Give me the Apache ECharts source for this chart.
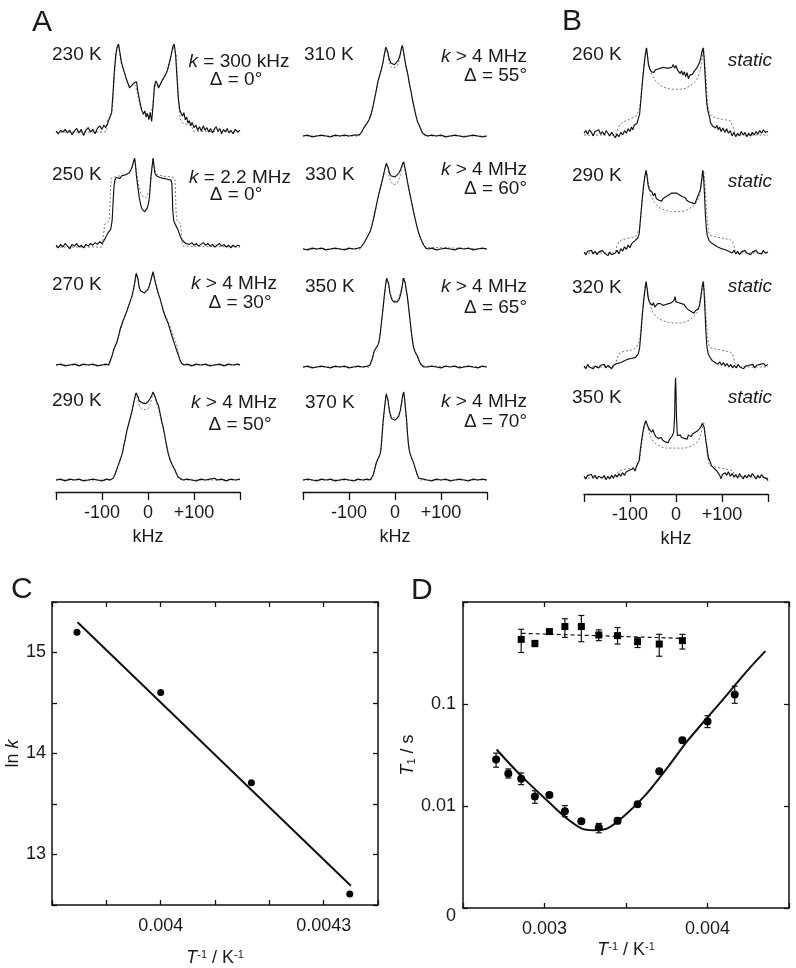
<!DOCTYPE html>
<html><head><meta charset="utf-8">
<script src="https://cdn.jsdelivr.net/npm/echarts@6.0.0/dist/echarts.min.js"></script>
<style>html,body{margin:0;padding:0;background:#fff}#c{width:796px;height:968px}</style>
</head><body><div id="c"></div><script>
// ---------- Spectra (x: kHz, y: normalized intensity) ----------
const A230_exp=[[-200,1],[-195,-2],[-190,2],[-185,0],[-180,3],[-175,-1],[-170,2],[-165,-3],[-160,1],[-155,4],[-150,-1],[-145,3],[-140,-4],[-135,2],[-130,5],[-125,0],[-120,3],[-115,-2],[-110,4],[-105,7],[-100,3],[-96,8],[-92,5],[-88,9],[-85,14],[-82,12],[-79,22],[-76,45],[-73,70],[-70,88],[-67,97],[-64,100],[-61,90],[-58,80],[-55,74],[-52,72],[-48,62],[-44,56],[-40,50],[-36,52],[-32,55],[-28,53],[-25,57],[-22,46],[-19,38],[-16,30],[-13,24],[-10,20],[-7,24],[-4,17],[-1,21],[2,14],[5,22],[8,12],[11,30],[14,52],[17,58],[20,55],[23,50],[26,52],[30,58],[34,60],[38,65],[42,70],[46,78],[50,87],[54,97],[57,100],[60,88],[63,62],[66,38],[69,25],[72,27],[75,18],[78,22],[81,14],[84,17],[87,10],[90,13],[93,7],[96,11],[100,5],[104,8],[108,2],[112,6],[116,1],[120,7],[124,2],[128,5],[132,0],[136,4],[140,-1],[144,3],[148,6],[152,1],[156,4],[160,-2],[164,3],[168,0],[172,4],[176,-1],[180,2],[185,-2],[190,3],[195,0],[200,2]];
const A230_sim=[[-200,0],[-95,0],[-90,1],[-88,14],[-84,17],[-80,20],[-77,30],[-74,55],[-71,78],[-68,92],[-65,99],[-62,92],[-59,80],[-55,72],[-51,66],[-46,58],[-41,53],[-36,52],[-31,55],[-27,52],[-23,44],[-19,34],[-15,26],[-11,22],[-6,21],[0,21],[6,22],[10,28],[13,45],[17,54],[22,53],[27,55],[32,58],[37,63],[42,69],[47,78],[51,88],[55,97],[58,99],[61,88],[64,60],[67,28],[70,15],[75,10],[82,9],[90,8],[95,7],[98,1],[102,0],[200,0]];
const A250_exp=[[-200,2],[-195,-1],[-190,3],[-185,0],[-180,4],[-175,1],[-170,-2],[-165,3],[-160,1],[-155,4],[-150,0],[-145,2],[-140,-1],[-135,3],[-130,1],[-125,4],[-120,2],[-115,5],[-110,3],[-105,6],[-100,4],[-96,7],[-93,10],[-90,13],[-87,16],[-84,17],[-81,20],[-78,30],[-76,50],[-74,68],[-72,76],[-69,79],[-65,80],[-61,78],[-57,81],[-53,79],[-49,82],[-45,84],[-41,84],[-37,88],[-34,92],[-31,98],[-29,101],[-27,92],[-25,80],[-22,68],[-19,56],[-16,48],[-13,43],[-10,41],[-7,40],[-4,41],[-1,45],[2,52],[4,62],[6,78],[9,92],[11,101],[13,92],[15,84],[18,81],[22,80],[26,79],[30,80],[34,78],[38,79],[42,77],[46,78],[50,76],[52,72],[54,40],[56,30],[59,26],[62,25],[65,20],[68,15],[71,11],[74,8],[78,6],[82,4],[86,5],[90,3],[95,5],[100,2],[105,4],[110,1],[115,3],[120,5],[125,2],[130,4],[135,1],[140,3],[145,0],[150,2],[155,4],[160,1],[165,3],[170,0],[175,2],[180,-1],[185,2],[190,0],[195,2],[200,1]];
const A250_sim=[[-200,0],[-100,0],[-96,2],[-94,26],[-90,28],[-86,29],[-84,32],[-82,60],[-80,78],[-76,80],[-70,80],[-60,81],[-50,82],[-42,84],[-36,88],[-32,94],[-29,100],[-27,93],[-24,82],[-21,72],[-17,63],[-13,58],[-9,56],[-5,56],[-1,58],[3,63],[6,74],[9,90],[11,100],[13,94],[16,86],[20,82],[30,81],[40,80],[50,80],[56,79],[59,76],[61,40],[63,30],[66,29],[70,27],[72,20],[74,5],[77,1],[80,0],[200,0]];
const A270_exp=[[-200,0],[-190,1],[-180,-1],[-170,0],[-160,1],[-150,-1],[-140,1],[-130,0],[-120,1],[-110,-1],[-100,0],[-92,1],[-86,0],[-82,2],[-79,9],[-75,17],[-71,22],[-68,25],[-64,33],[-61,40],[-57,46],[-54,51],[-50,56],[-46,61],[-43,66],[-39,72],[-35,78],[-32,85],[-29,93],[-26,104],[-24,106],[-22,98],[-19,88],[-16,84],[-12,82],[-8,82],[-4,83],[0,86],[4,92],[8,100],[11,106],[13,104],[16,94],[19,88],[22,82],[26,76],[30,68],[33,62],[37,56],[40,52],[44,47],[48,40],[52,33],[55,28],[59,22],[62,17],[66,11],[70,5],[73,2],[78,0],[85,1],[95,-1],[105,1],[115,0],[125,1],[135,-1],[145,0],[155,1],[165,-1],[175,1],[185,0],[195,1],[200,0]];
const A270_sim=[[-200,0],[-84,0],[-80,6],[-76,14],[-72,20],[-68,26],[-64,32],[-60,39],[-56,46],[-52,52],[-48,58],[-44,64],[-40,70],[-36,76],[-32,84],[-29,92],[-26,102],[-24,105],[-22,98],[-19,88],[-15,84],[-10,82],[-5,82],[0,85],[4,91],[8,100],[11,105],[13,103],[16,94],[19,87],[23,80],[27,73],[31,66],[35,60],[39,55],[43,50],[47,45],[51,39],[55,33],[59,28],[62,24],[65,17],[68,10],[71,4],[75,1],[80,0],[200,0]];
const A290_exp=[[-200,0],[-190,1],[-180,-1],[-170,1],[-160,0],[-150,1],[-140,-1],[-130,0],[-120,1],[-110,0],[-100,-1],[-90,1],[-82,0],[-76,2],[-72,6],[-68,12],[-64,18],[-60,24],[-56,30],[-53,38],[-49,48],[-46,56],[-43,62],[-39,70],[-35,78],[-32,86],[-29,93],[-26,99],[-24,100],[-22,95],[-19,90],[-15,88],[-10,87],[-5,87],[0,89],[4,92],[8,96],[11,100],[13,99],[16,94],[19,89],[23,84],[27,74],[30,66],[33,60],[36,52],[40,40],[44,30],[48,23],[52,18],[56,14],[59,11],[62,7],[66,3],[70,1],[76,0],[85,1],[95,0],[105,-1],[115,1],[125,0],[135,1],[145,2],[150,0],[160,1],[170,-1],[180,1],[190,0],[200,1]];
const A290_sim=[[-200,0],[-80,0],[-75,3],[-71,8],[-67,13],[-63,18],[-59,24],[-55,32],[-51,42],[-47,52],[-43,60],[-39,68],[-35,76],[-32,84],[-29,92],[-26,98],[-24,99],[-22,92],[-19,85],[-14,81],[-8,80],[-3,80],[2,82],[6,88],[9,95],[11,99],[13,98],[16,92],[19,87],[23,80],[27,72],[31,63],[35,53],[39,43],[43,33],[47,25],[51,19],[55,14],[59,10],[63,6],[67,2],[72,0],[200,0]];
const A310_exp=[[-200,0],[-190,1],[-180,-1],[-170,0],[-160,1],[-150,0],[-140,-1],[-130,1],[-120,0],[-110,1],[-100,0],[-90,1],[-82,1],[-76,2],[-72,5],[-68,9],[-64,12],[-60,15],[-56,19],[-52,25],[-48,33],[-45,41],[-41,51],[-38,60],[-34,68],[-30,75],[-26,84],[-23,93],[-20,101],[-18,103],[-16,96],[-13,88],[-9,83],[-5,81],[-1,81],[3,83],[7,86],[11,92],[14,100],[16,103],[18,98],[21,88],[24,79],[28,70],[31,60],[35,50],[38,41],[42,31],[46,22],[49,16],[53,12],[56,8],[60,3],[64,1],[70,0],[80,1],[90,0],[100,1],[110,-1],[120,0],[130,1],[140,0],[150,-1],[160,0],[170,1],[180,0],[190,-1],[200,0]];
const A310_sim=[[-200,0],[-78,0],[-74,3],[-70,7],[-66,11],[-62,14],[-58,17],[-54,21],[-50,28],[-46,38],[-42,48],[-38,58],[-34,67],[-30,75],[-26,84],[-23,93],[-20,100],[-18,102],[-16,94],[-13,84],[-9,79],[-4,77],[0,77],[4,79],[8,83],[11,90],[14,99],[16,102],[18,96],[21,86],[25,76],[29,66],[33,55],[37,45],[41,35],[45,25],[49,17],[53,12],[57,7],[61,2],[66,0],[200,0]];
const A330_exp=[[-200,0],[-190,-1],[-180,1],[-170,0],[-160,1],[-150,-1],[-140,0],[-130,1],[-120,0],[-110,-1],[-100,1],[-90,0],[-80,1],[-74,2],[-70,4],[-66,8],[-62,12],[-58,16],[-54,20],[-50,27],[-46,36],[-42,46],[-38,56],[-34,65],[-30,73],[-26,82],[-22,91],[-19,97],[-17,99],[-15,93],[-12,86],[-8,83],[-4,82],[0,82],[4,83],[8,86],[12,90],[16,96],[19,99],[21,94],[24,86],[27,77],[31,66],[35,56],[39,46],[43,36],[47,27],[51,19],[55,13],[59,8],[63,4],[67,1],[72,0],[80,1],[90,-1],[100,0],[110,1],[120,0],[130,-1],[140,1],[150,0],[160,1],[170,-1],[180,0],[190,1],[200,0]];
const A330_sim=[[-200,0],[-76,0],[-72,3],[-68,6],[-64,10],[-60,14],[-56,18],[-52,23],[-48,31],[-44,40],[-40,50],[-36,60],[-32,69],[-28,77],[-24,86],[-21,94],[-18,98],[-16,93],[-13,83],[-9,76],[-4,73],[0,73],[4,74],[8,78],[12,85],[15,93],[18,98],[20,95],[23,86],[26,78],[30,68],[34,58],[38,48],[42,38],[46,29],[50,21],[54,14],[58,9],[62,5],[66,2],[70,0],[200,0]];
const A350_exp=[[-200,0],[-190,1],[-180,-1],[-170,0],[-160,1],[-150,0],[-140,-1],[-130,1],[-120,0],[-110,1],[-100,-1],[-90,0],[-80,1],[-70,0],[-60,1],[-55,2],[-52,4],[-49,10],[-46,17],[-42,21],[-38,24],[-35,28],[-32,38],[-30,48],[-27,62],[-25,72],[-23,82],[-20,95],[-18,101],[-16,103],[-14,95],[-11,84],[-7,77],[-3,74],[1,73],[5,74],[9,77],[13,84],[16,93],[18,101],[20,103],[22,96],[25,86],[27,80],[30,66],[33,52],[35,42],[38,30],[40,23],[43,18],[46,15],[49,12],[52,8],[55,4],[58,2],[62,0],[66,2],[70,0],[80,1],[90,0],[100,-1],[110,1],[120,0],[130,1],[140,-1],[150,0],[160,1],[170,0],[180,-1],[190,1],[200,0]];
const A350_sim=[[-200,0],[-56,0],[-53,3],[-50,8],[-47,15],[-43,20],[-39,23],[-36,27],[-33,36],[-30,47],[-27,61],[-25,71],[-23,81],[-20,94],[-18,100],[-16,102],[-14,94],[-11,84],[-7,78],[-2,75],[2,75],[6,77],[10,81],[14,88],[17,97],[20,102],[22,95],[25,85],[28,74],[31,60],[34,46],[37,33],[40,24],[43,18],[46,14],[50,10],[54,5],[58,1],[62,0],[200,0]];
const A370_exp=[[-200,0],[-190,1],[-180,0],[-170,-1],[-160,1],[-150,0],[-140,1],[-130,-1],[-120,0],[-110,1],[-100,0],[-90,-1],[-80,1],[-70,0],[-60,1],[-54,0],[-50,2],[-47,6],[-44,12],[-41,19],[-38,23],[-35,26],[-32,30],[-30,38],[-28,52],[-26,66],[-24,76],[-21,90],[-19,98],[-17,100],[-15,90],[-12,78],[-8,70],[-4,68],[0,68],[4,69],[8,72],[12,80],[15,90],[17,97],[19,100],[21,92],[23,80],[25,70],[27,54],[29,42],[31,34],[34,28],[37,24],[40,20],[43,15],[46,10],[49,5],[52,2],[56,0],[62,1],[70,0],[80,-1],[90,1],[100,0],[110,1],[120,-1],[130,0],[140,1],[150,0],[160,-1],[170,1],[180,0],[190,1],[200,0]];
const A370_sim=[[-200,0],[-52,0],[-49,3],[-46,9],[-43,15],[-40,20],[-37,24],[-34,27],[-31,32],[-29,42],[-27,56],[-25,69],[-23,80],[-21,90],[-19,97],[-17,99],[-15,90],[-12,79],[-8,72],[-4,70],[0,70],[4,71],[8,74],[12,81],[15,90],[17,96],[19,99],[21,91],[23,79],[25,68],[27,53],[29,41],[32,31],[35,26],[38,22],[41,18],[44,13],[47,8],[50,3],[53,0],[200,0]];
const B260_exp=[[-200,2],[-196,5],[-192,1],[-188,6],[-184,3],[-180,-1],[-176,4],[-172,2],[-168,6],[-164,1],[-160,4],[-156,0],[-152,5],[-148,2],[-144,-1],[-140,3],[-136,0],[-132,-3],[-128,1],[-124,-2],[-120,3],[-116,0],[-112,5],[-108,2],[-104,7],[-100,4],[-97,9],[-94,6],[-91,11],[-88,9],[-85,13],[-82,14],[-79,24],[-76,42],[-73,60],[-70,76],[-67,90],[-64,99],[-62,90],[-60,80],[-57,75],[-54,72],[-51,73],[-48,71],[-45,74],[-42,73],[-39,75],[-36,74],[-33,76],[-30,75],[-27,77],[-24,75],[-21,76],[-18,78],[-15,76],[-12,78],[-9,77],[-6,80],[-3,76],[0,79],[3,74],[6,76],[9,70],[12,73],[15,68],[18,72],[21,66],[24,71],[27,64],[30,68],[33,66],[36,69],[39,72],[42,74],[45,76],[48,78],[51,82],[54,88],[57,96],[59,99],[61,88],[63,70],[65,50],[67,36],[69,28],[71,26],[73,20],[75,14],[77,16],[80,10],[83,12],[86,8],[89,11],[92,6],[95,9],[98,4],[102,8],[106,3],[110,7],[114,2],[118,5],[122,-1],[126,3],[130,-2],[134,2],[138,-1],[142,4],[146,0],[150,3],[154,-2],[158,2],[162,-1],[166,3],[170,0],[174,4],[178,1],[182,5],[186,2],[190,6],[194,3],[198,5],[200,4]];
const B260_sim=[[-200,0],[-132,0],[-129,3],[-126,8],[-122,12],[-117,14],[-110,16],[-100,18],[-92,20],[-86,22],[-82,24],[-79,30],[-76,45],[-73,62],[-70,78],[-67,92],[-65,99],[-62,90],[-59,80],[-55,72],[-50,66],[-44,61],[-38,58],[-30,55],[-20,53],[-10,52],[0,52],[10,52],[20,53],[28,55],[36,58],[42,61],[48,66],[52,72],[55,80],[58,92],[60,99],[62,88],[65,65],[68,40],[71,28],[74,23],[80,21],[90,19],[100,18],[110,17],[118,16],[122,14],[125,8],[128,3],[131,0],[200,0]];
const B290_exp=[[-200,1],[-196,-2],[-192,2],[-188,0],[-184,3],[-180,-1],[-176,2],[-172,-2],[-168,1],[-164,-1],[-160,3],[-156,0],[-152,2],[-148,-3],[-144,1],[-140,-2],[-136,-4],[-132,0],[-128,3],[-124,-1],[-120,5],[-116,2],[-112,7],[-108,4],[-104,9],[-100,6],[-96,11],[-92,9],[-89,14],[-86,12],[-83,17],[-80,22],[-77,40],[-74,58],[-71,74],[-68,86],[-65,94],[-63,88],[-61,78],[-58,72],[-55,70],[-52,69],[-49,65],[-46,68],[-43,62],[-40,64],[-37,60],[-34,62],[-31,59],[-28,62],[-25,61],[-22,64],[-19,63],[-16,66],[-13,67],[-10,68],[-7,69],[-4,68],[-1,69],[2,68],[5,69],[8,66],[11,67],[14,64],[17,62],[20,63],[23,60],[26,61],[29,58],[32,60],[35,57],[38,58],[41,56],[44,60],[47,64],[50,66],[53,72],[56,84],[58,94],[60,86],[62,66],[64,42],[66,28],[68,20],[70,17],[72,14],[75,15],[78,11],[81,13],[84,9],[87,11],[90,7],[94,9],[98,5],[102,7],[106,4],[110,6],[114,2],[118,4],[122,0],[126,3],[130,-1],[134,2],[138,-2],[142,1],[146,-1],[150,3],[154,0],[158,2],[162,-2],[166,1],[170,-1],[174,3],[178,0],[182,2],[186,-1],[190,3],[194,0],[198,2],[200,1]];
const B290_sim=[[-200,0],[-134,0],[-131,3],[-128,9],[-124,13],[-118,15],[-110,16],[-100,17],[-92,18],[-86,20],[-82,22],[-79,28],[-76,44],[-73,62],[-70,78],[-67,90],[-65,94],[-62,86],[-59,76],[-55,66],[-50,60],[-44,56],[-38,52],[-30,50],[-20,48],[-10,47],[0,47],[10,47],[20,48],[28,50],[36,53],[42,56],[48,61],[52,67],[55,76],[58,89],[60,94],[62,84],[65,60],[68,36],[71,24],[74,20],[80,19],[90,18],[100,17],[110,16],[118,15],[123,13],[126,8],[129,3],[132,0],[200,0]];
const B320_exp=[[-200,1],[-196,-2],[-192,3],[-188,0],[-184,2],[-180,-2],[-176,1],[-172,3],[-168,-1],[-164,2],[-160,0],[-156,3],[-152,-1],[-148,2],[-144,0],[-140,-2],[-136,2],[-132,0],[-128,4],[-124,2],[-120,5],[-116,3],[-112,7],[-108,5],[-104,9],[-100,7],[-96,10],[-92,8],[-88,11],[-85,12],[-82,15],[-79,22],[-76,40],[-73,60],[-70,76],[-67,90],[-65,97],[-63,90],[-61,80],[-58,74],[-55,72],[-52,70],[-49,73],[-46,68],[-43,70],[-40,72],[-37,74],[-34,72],[-31,73],[-28,70],[-25,72],[-22,71],[-19,73],[-16,72],[-13,74],[-10,73],[-7,75],[-4,76],[-2,80],[0,74],[3,72],[6,73],[9,71],[12,72],[15,70],[18,71],[21,68],[24,67],[27,65],[30,66],[33,63],[36,62],[39,61],[42,64],[45,62],[48,66],[51,70],[54,80],[57,92],[59,97],[61,86],[63,64],[65,40],[67,24],[70,15],[73,12],[76,10],[79,7],[82,9],[85,5],[88,7],[91,3],[95,6],[99,2],[103,5],[107,1],[111,4],[115,0],[119,3],[123,-1],[127,2],[131,-1],[135,3],[139,0],[143,2],[147,-2],[151,1],[155,-1],[159,2],[163,0],[167,3],[171,-1],[175,2],[179,0],[183,3],[187,1],[191,4],[195,1],[200,3]];
const B320_sim=[[-200,0],[-134,0],[-131,4],[-128,10],[-124,15],[-118,17],[-110,18],[-100,19],[-92,20],[-86,22],[-82,24],[-79,30],[-76,46],[-73,64],[-70,80],[-67,92],[-65,97],[-62,88],[-59,78],[-55,68],[-50,62],[-44,58],[-38,55],[-30,53],[-20,51],[-10,50],[0,50],[10,50],[20,51],[28,53],[36,56],[42,59],[48,64],[52,70],[55,79],[58,92],[60,97],[62,86],[65,62],[68,38],[71,26],[74,22],[80,21],[90,20],[100,19],[110,18],[118,17],[123,15],[126,9],[129,3],[132,0],[200,0]];
const B350_exp=[[-200,2],[-196,-1],[-192,3],[-188,1],[-184,4],[-180,0],[-176,3],[-172,-1],[-168,2],[-164,4],[-160,0],[-156,3],[-152,-2],[-148,2],[-144,-1],[-140,3],[-136,0],[-132,4],[-128,1],[-124,5],[-120,2],[-116,6],[-112,3],[-108,7],[-104,5],[-100,9],[-96,7],[-92,11],[-89,8],[-86,13],[-83,15],[-80,20],[-78,30],[-75,42],[-72,52],[-69,60],[-66,65],[-64,66],[-62,60],[-59,56],[-56,54],[-53,52],[-50,55],[-47,50],[-44,47],[-41,49],[-38,45],[-35,47],[-32,46],[-29,43],[-26,44],[-23,41],[-20,42],[-17,40],[-14,44],[-11,46],[-8,48],[-5,52],[-3,70],[-2,100],[-1,114],[0,100],[1,70],[3,48],[6,47],[9,49],[12,46],[15,48],[18,45],[21,47],[24,44],[27,49],[30,51],[33,47],[36,50],[39,49],[42,52],[45,50],[48,54],[51,56],[54,58],[57,62],[59,64],[61,58],[63,50],[65,42],[67,36],[69,28],[71,22],[74,19],[77,14],[80,16],[83,11],[86,13],[89,8],[92,10],[95,3],[98,-1],[101,4],[104,2],[107,6],[110,3],[114,7],[118,2],[122,5],[126,1],[130,4],[134,0],[138,5],[142,2],[146,-1],[150,3],[154,0],[158,4],[162,1],[166,5],[170,2],[174,-1],[178,3],[182,0],[186,4],[190,1],[194,3],[198,-1],[200,-3]];
const B350_sim=[[-200,0],[-134,0],[-131,2],[-128,5],[-124,8],[-118,9],[-110,10],[-100,11],[-92,12],[-86,13],[-82,15],[-79,20],[-76,32],[-73,45],[-70,55],[-67,62],[-65,65],[-62,59],[-59,53],[-55,46],[-50,42],[-44,39],[-38,37],[-30,35],[-20,34],[-10,34],[0,34],[10,34],[20,34],[28,35],[36,37],[42,39],[48,42],[52,46],[55,52],[58,60],[60,64],[62,58],[65,42],[68,26],[71,17],[74,14],[80,13],[90,12],[100,11],[110,10],[118,9],[123,8],[126,5],[129,2],[132,0],[200,0]];

const tempLabels=['230 K','250 K','270 K','290 K','310 K','330 K','350 K','370 K','260 K','290 K','320 K','350 K'];
const rateLabels=['= 300 kHz','= 2.2 MHz','> 4 MHz','> 4 MHz','> 4 MHz','> 4 MHz','> 4 MHz','> 4 MHz'];
const angleLabels=['Δ = 0°','Δ = 0°','Δ = 30°','Δ = 50°','Δ = 55°','Δ = 60°','Δ = 65°','Δ = 70°'];
const kHzTicks=[-200,-100,0,100,200];
const kHzTickLabels=['','-100','0','+100',''];

// ---------- Panel C ----------
const cInvT=[0.003846,0.004,0.004167,0.004348];
const cLnK=[15.2,14.605,13.71,12.608];
const cFit=[[0.003847,15.30],[0.00435,12.69]];
const cXTickLabels=['0.004','0.0043'];

// ---------- Panel D ----------
const dInvT=[0.002703,0.002778,0.002857,0.002941,0.00303,0.003125,0.003226,0.003333,0.003448,0.003571,0.003704,0.003846,0.004,0.004167];
const dT1=[0.0285,0.0208,0.0185,0.0124,0.01285,0.0089,0.0071,0.00615,0.00717,0.0104,0.0219,0.044,0.0674,0.124];
const dT1Lo=[0.024,0.0188,0.0162,0.01064,0.0122,0.00785,0.0068,0.00546,0.0067,0.0101,0.0211,0.042,0.0587,0.1016];
const dT1Hi=[0.033,0.0231,0.0211,0.0141,0.0135,0.0101,0.0074,0.00675,0.0077,0.0107,0.0227,0.046,0.0767,0.1496];
const sqInvT=[0.002857,0.002941,0.00303,0.003125,0.003226,0.003333,0.003448,0.003571,0.003704,0.003846];
const sqT1=[0.43,0.393,0.513,0.575,0.575,0.475,0.468,0.408,0.387,0.418];
const sqT1Lo=[0.32,0.365,0.486,0.45,0.408,0.418,0.387,0.358,0.294,0.346];
const sqT1Hi=[0.54,0.418,0.533,0.685,0.738,0.533,0.562,0.447,0.482,0.482];
const sqFit=[[0.00286,0.493],[0.003846,0.44]];
const dFit=[[0.002706,0.0358],[0.00286,0.0195],[0.003034,0.01064],[0.003137,0.00755],[0.00323,0.00601],[0.0033,0.0058],[0.003383,0.006],[0.003507,0.00848],[0.00363,0.01337],[0.003753,0.0236],[0.003877,0.0434],[0.004,0.0738],[0.004123,0.125],[0.004246,0.214],[0.004355,0.33]];
const dXTickLabels=['0.003','0.004'];
const dYTickExp=[-3,-2,-1];
const dYTickLabels=['{z|0}','0.01','0.1'];

// ---------- layout ----------
const FONT='Liberation Sans';
const TXT='#1a1a1a';
const slots=[
 {exp:A230_exp,sim:A230_sim,left:56,base:132},
 {exp:A250_exp,sim:A250_sim,left:56,base:247},
 {exp:A270_exp,sim:A270_sim,left:56,base:365},
 {exp:A290_exp,sim:A290_sim,left:56,base:480},
 {exp:A310_exp,sim:A310_sim,left:303,base:136},
 {exp:A330_exp,sim:A330_sim,left:303,base:249},
 {exp:A350_exp,sim:A350_sim,left:303,base:367},
 {exp:A370_exp,sim:A370_sim,left:303,base:480},
 {exp:B260_exp,sim:B260_sim,left:584,base:135},
 {exp:B290_exp,sim:B290_sim,left:584,base:253},
 {exp:B320_exp,sim:B320_sim,left:584,base:367},
 {exp:B350_exp,sim:B350_sim,left:584,base:478}
];
const grids=[],xAxes=[],yAxes=[],series=[];
slots.forEach((s,i)=>{
  grids.push({left:s.left,top:s.base-105.6,width:184,height:123.2});
  xAxes.push({gridIndex:i,type:'value',min:-200,max:200,show:false});
  yAxes.push({gridIndex:i,type:'value',min:-20,max:120,show:false});
  series.push({type:'line',xAxisIndex:i,yAxisIndex:i,data:s.sim,showSymbol:false,clip:false,silent:true,
    lineStyle:{color:'#6a6a6a',width:0.9,type:[2,2]},z:2});
  series.push({type:'line',xAxisIndex:i,yAxisIndex:i,data:s.exp,showSymbol:false,clip:false,silent:true,
    lineStyle:{color:'#111',width:1.15},z:3});
});
// kHz axes
[[56,492],[303,492],[584,494]].forEach(([l,y])=>{
  const gi=grids.length;
  grids.push({left:l,top:y-1,width:184,height:1});
  xAxes.push({gridIndex:gi,type:'value',min:-200,max:200,interval:100,position:'bottom',
    axisLine:{show:true,lineStyle:{color:'#111',width:1.3}},
    axisTick:{show:true,inside:false,length:8,lineStyle:{color:'#111',width:1.3}},
    splitLine:{show:false},
    axisLabel:{margin:12,fontSize:18,fontFamily:FONT,color:TXT,
      formatter:v=>{const k=kHzTicks.indexOf(Math.round(v));return k>=0?kHzTickLabels[k]:'';}},
    name:'kHz',nameLocation:'middle',nameGap:36,nameTextStyle:{fontSize:18,fontFamily:FONT,color:TXT}});
  yAxes.push({gridIndex:gi,type:'value',show:false});
});
const nameRich={i:{fontStyle:'italic',fontSize:18,fontFamily:FONT,color:TXT},
  s:{fontSize:11,fontFamily:FONT,color:TXT,verticalAlign:'top'},
  b:{fontSize:11,fontFamily:FONT,color:TXT,verticalAlign:'bottom'},
  n:{fontSize:18,fontFamily:FONT,color:TXT}};
const tickStyle={show:true,inside:true,length:5,lineStyle:{color:'#111',width:1.3}};
const frameLine={show:true,onZero:false,lineStyle:{color:'#111',width:1.5}};
// C
const cG=grids.length;
grids.push({left:52,top:602,width:326,height:305});
xAxes.push({gridIndex:cG,type:'value',min:0.0038,max:0.0044,interval:0.0001,position:'bottom',
  axisLine:frameLine,axisTick:tickStyle,splitLine:{show:false},
  axisLabel:{margin:12,fontSize:18,fontFamily:FONT,color:TXT,
    formatter:v=>{const s=String(+v.toFixed(5));return cXTickLabels.includes(s)?s:'';}},
  name:'{i|T}{s|-1}{n| / K}{s|-1}',nameLocation:'middle',nameGap:44,nameTextStyle:{fontSize:18,fontFamily:FONT,color:TXT,rich:nameRich}});
xAxes.push({gridIndex:cG,type:'value',min:0.0038,max:0.0044,interval:0.0001,position:'top',
  axisLine:frameLine,axisTick:tickStyle,axisLabel:{show:false},splitLine:{show:false}});
yAxes.push({gridIndex:cG,type:'value',min:12.5,max:15.5,interval:0.5,position:'left',
  axisLine:frameLine,axisTick:tickStyle,splitLine:{show:false},
  axisLabel:{margin:6,fontSize:18,fontFamily:FONT,color:TXT,
    formatter:v=>Math.abs(v-Math.round(v))<1e-6?String(Math.round(v)):''},
  name:'{n|ln }{i|k}',nameLocation:'middle',nameRotate:90,nameGap:30,nameTextStyle:{fontSize:18,fontFamily:FONT,color:TXT,rich:nameRich}});
yAxes.push({gridIndex:cG,type:'value',min:12.5,max:15.5,interval:0.5,position:'right',
  axisLine:frameLine,axisTick:tickStyle,axisLabel:{show:false},splitLine:{show:false}});
series.push({type:'line',xAxisIndex:cG,yAxisIndex:cG,data:cFit,showSymbol:false,lineStyle:{color:'#111',width:2}});
series.push({type:'scatter',xAxisIndex:cG,yAxisIndex:cG,data:cInvT.map((x,i)=>[x,cLnK[i]]),symbol:'circle',symbolSize:7,itemStyle:{color:'#000',opacity:1}});
// D
const dG=grids.length;
const dXi=xAxes.length, dYi=yAxes.length;
grids.push({left:463,top:602,width:326,height:306});
xAxes.push({gridIndex:dG,type:'value',min:0.0025,max:0.0045,interval:0.0005,position:'bottom',
  axisLine:frameLine,axisTick:tickStyle,splitLine:{show:false},
  axisLabel:{margin:12,fontSize:18,fontFamily:FONT,color:TXT,
    formatter:v=>{const s=String(+v.toFixed(5));return dXTickLabels.includes(s)?s:'';}},
  name:'{i|T}{s|-1}{n| / K}{s|-1}',nameLocation:'middle',nameGap:33,nameTextStyle:{fontSize:18,fontFamily:FONT,color:TXT,rich:nameRich}});
xAxes.push({gridIndex:dG,type:'value',min:0.0025,max:0.0045,interval:0.0005,position:'top',
  axisLine:frameLine,axisTick:tickStyle,axisLabel:{show:false},splitLine:{show:false}});
yAxes.push({gridIndex:dG,type:'log',logBase:10,min:0.001,max:1,position:'left',
  axisLine:frameLine,axisTick:tickStyle,splitLine:{show:false},minorTick:{show:false},
  axisLabel:{margin:7,fontSize:18,fontFamily:FONT,color:TXT,
    rich:{z:{fontSize:18,fontFamily:FONT,color:TXT,padding:[16,0,0,0]}},
    formatter:v=>{const e=Math.round(Math.log10(v));const k=dYTickExp.indexOf(e);return k>=0?dYTickLabels[k]:'';}},
  name:'{i|T}{b|1}{n| / s}',nameLocation:'middle',nameRotate:90,nameGap:30,nameTextStyle:{fontSize:18,fontFamily:FONT,color:TXT,rich:nameRich}});
yAxes.push({gridIndex:dG,type:'log',logBase:10,min:0.001,max:1,position:'right',
  axisLine:frameLine,axisTick:tickStyle,axisLabel:{show:false},splitLine:{show:false}});
const errRender=(params,api)=>{
  const x=api.value(0),lo=api.value(1),hi=api.value(2);
  const p1=api.coord([x,lo]),p2=api.coord([x,hi]);const w=3;
  const st={stroke:'#111',lineWidth:1.2};
  return {type:'group',children:[
    {type:'line',shape:{x1:p1[0],y1:p1[1],x2:p2[0],y2:p2[1]},style:st},
    {type:'line',shape:{x1:p1[0]-w,y1:p1[1],x2:p1[0]+w,y2:p1[1]},style:st},
    {type:'line',shape:{x1:p2[0]-w,y1:p2[1],x2:p2[0]+w,y2:p2[1]},style:st}]};
};
series.push({type:'custom',xAxisIndex:dXi,yAxisIndex:dYi,renderItem:errRender,encode:{x:0,y:[1,2]},
  data:dInvT.map((x,i)=>[x,dT1Lo[i],dT1Hi[i]]),silent:true,z:3});
series.push({type:'custom',xAxisIndex:dXi,yAxisIndex:dYi,renderItem:errRender,encode:{x:0,y:[1,2]},
  data:sqInvT.map((x,i)=>[x,sqT1Lo[i],sqT1Hi[i]]),silent:true,z:3});
series.push({type:'line',xAxisIndex:dXi,yAxisIndex:dYi,data:sqFit,showSymbol:false,lineStyle:{color:'#111',width:1.2,type:[4,3]},z:2});
series.push({type:'line',xAxisIndex:dXi,yAxisIndex:dYi,data:dFit,smooth:0.3,showSymbol:false,lineStyle:{color:'#111',width:2},z:2});
series.push({type:'scatter',xAxisIndex:dXi,yAxisIndex:dYi,data:dInvT.map((x,i)=>[x,dT1[i]]),symbol:'circle',symbolSize:8,itemStyle:{color:'#000',opacity:1},z:4});
series.push({type:'scatter',xAxisIndex:dXi,yAxisIndex:dYi,data:sqInvT.map((x,i)=>[x,sqT1[i]]),symbol:'rect',symbolSize:7,itemStyle:{color:'#000',opacity:1},z:4});

// ---------- text ----------
const g=[];
const txt=(t,x,y,opt={})=>g.push({type:'text',x,y,silent:true,style:Object.assign({text:t,fontSize:19,fontFamily:FONT,fill:TXT,align:'left',verticalAlign:'middle',
  rich:{i:{fontStyle:'italic',fontSize:19,fontFamily:FONT,fill:TXT}}},opt)});
txt('A',32,23,{fontSize:30});txt('B',562,22,{fontSize:30});txt('C',11,590,{fontSize:30});txt('D',411,591,{fontSize:30});
const tPos=[[52,55],[52,175],[52,285],[52,401],[304,55],[305,175],[305,287],[305,403],[572,55],[572,176],[572,288],[572,398]];
tempLabels.forEach((t,i)=>txt(t,tPos[i][0],tPos[i][1]));
const kPos=[[239,62,'center'],[240,178,'center'],[234,284,'center'],[234,403,'center'],[527,57,'right'],[527,170,'right'],[527,287,'right'],[527,402,'right']];
const aPos=[[236,80,'center'],[236,195,'center'],[240,303,'center'],[240,425,'center'],[527,76,'right'],[527,189,'right'],[527,308,'right'],[527,422,'right']];
rateLabels.forEach((t,i)=>txt('{i|k} '+t,kPos[i][0],kPos[i][1],{align:kPos[i][2]}));
angleLabels.forEach((t,i)=>txt(t,aPos[i][0],aPos[i][1],{align:aPos[i][2]}));
[61,182,287,398].forEach(y=>txt('static',772,y,{align:'right',fontStyle:'italic'}));

const chart=echarts.init(document.getElementById('c'),null,{renderer:'canvas'});
chart.setOption({animation:false,backgroundColor:'#fff',grid:grids,xAxis:xAxes,yAxis:yAxes,series:series,graphic:g});
</script></body></html>
